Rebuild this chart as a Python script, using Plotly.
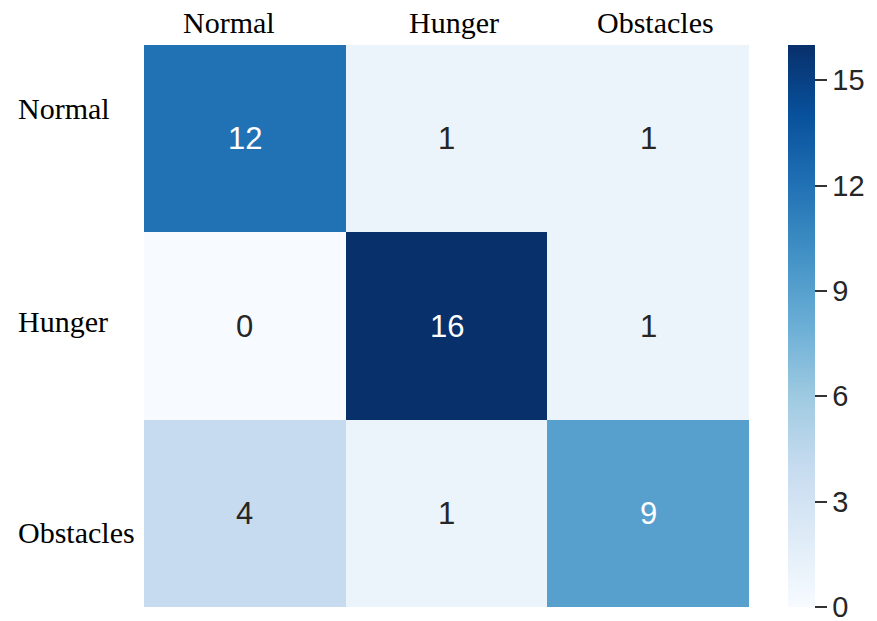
import plotly.graph_objects as go

labels = ["Normal", "Hunger", "Obstacles"]
matrix = [
    [12, 1, 1],
    [0, 16, 1],
    [4, 1, 9],
]
cbar_ticks = [0, 3, 6, 9, 12, 15]

fig = go.Figure(go.Heatmap(
    z=matrix, x=labels, y=labels,
    colorscale="Blues", zmin=0, zmax=16, xgap=0, ygap=0,
    hoverinfo="skip",
    colorbar=dict(
        x=(788 - 144) / 605, xanchor="left", xpad=0,
        y=0.5, yanchor="middle", ypad=0, len=1, lenmode="fraction",
        thickness=27, outlinewidth=0,
        tickvals=cbar_ticks, ticks="outside", ticklen=12, tickwidth=2,
        tickcolor="#333333", ticklabeloverflow="allow",
        tickfont=dict(family="Liberation Sans", size=29, color="#262626"),
    ),
))

annotations = []
for i, row in enumerate(matrix):
    for j, v in enumerate(row):
        annotations.append(dict(
            x=labels[j], y=labels[i], xref="x", yref="y", text=str(v),
            showarrow=False,
            font=dict(family="Liberation Sans", size=31,
                      color="white" if v > 8 else "#262626"),
        ))

x_shift = [-16, 7, 7]
for j, lab in enumerate(labels):
    annotations.append(dict(
        x=lab, y=1, xref="x", yref="paper", yanchor="bottom", text=lab,
        showarrow=False, xshift=x_shift[j], yshift=4,
        font=dict(family="Liberation Serif", size=30, color="black"),
    ))

y_shift = [30, 5, -19]
for i, lab in enumerate(labels):
    annotations.append(dict(
        x=-144 / 605 + 16 / 605, y=lab, xref="paper", yref="y", xanchor="left",
        text=lab, showarrow=False, yshift=y_shift[i],
        font=dict(family="Liberation Serif", size=30, color="black"),
    ))

fig.update_layout(
    width=877, height=621,
    margin=dict(l=144, r=128, t=45, b=14),
    paper_bgcolor="white", plot_bgcolor="white",
    xaxis=dict(showticklabels=False, showgrid=False, zeroline=False, ticks=""),
    yaxis=dict(showticklabels=False, showgrid=False, zeroline=False, ticks="",
               autorange="reversed"),
    annotations=annotations,
)

fig.write_html("out.html")
